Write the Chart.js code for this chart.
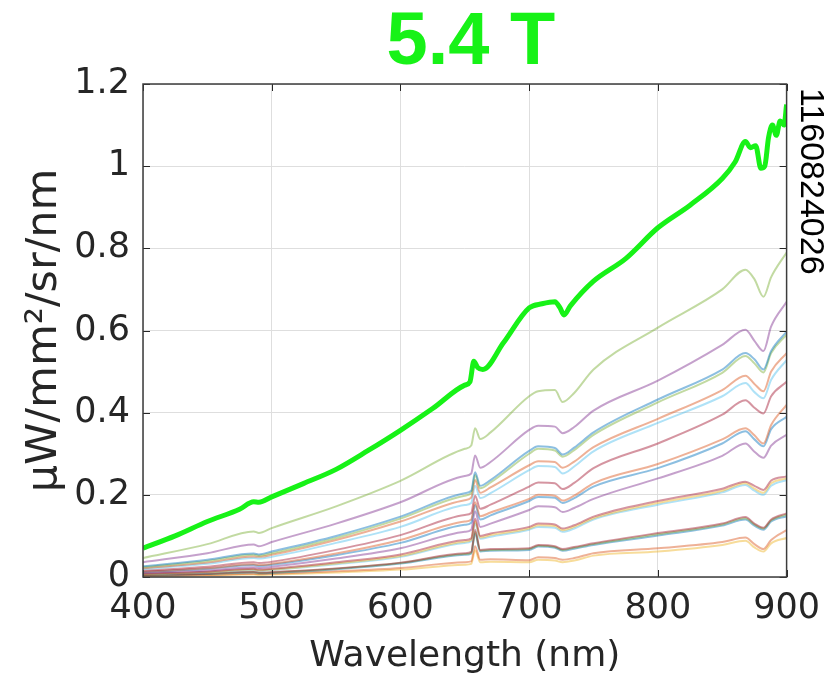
<!DOCTYPE html>
<html>
<head>
<meta charset="utf-8">
<script src="https://cdn.jsdelivr.net/npm/chart.js@4.4.1/dist/chart.umd.min.js"></script>
<style>
  html, body { margin: 0; padding: 0; background: #ffffff; }
  #wrap { width: 831px; height: 683px; }
</style>
</head>
<body>
<div id="wrap"><canvas id="spectra" width="831" height="683"></canvas></div>
<script>
// ---- data -------------------------------------------------------------
const chartTitle = '5.4 T';
const shotNumber = '1160824026';
const xAxisTitle = 'Wavelength (nm)';
const yAxisTitle = 'μW/mm²/sr/nm';

const xTickValues = [400, 500, 600, 700, 800, 900];
const xTickLabels = ['400', '500', '600', '700', '800', '900'];
const yTickValues = [0, 0.2, 0.4, 0.6, 0.8, 1.0, 1.2];
const yTickLabels = ['0', '0.2', '0.4', '0.6', '0.8', '1', '1.2'];

// sample wavelengths (nm) shared by the background spectra
const wavelengths = [400, 450, 486, 490, 500, 550, 600, 650, 655, 658, 662, 670, 700, 707, 720, 726, 735, 750, 800, 850, 868, 875, 882, 888, 900];

const run01 = [.046, .08, .111, .107, .119, .172, .234, .312, .32, .362, .336, .352, .44, .452, .455, .426, .448, .505, .607, .70, .748, .725, .682, .73, .79];
const run02 = [.036, .058, .079, .075, .085, .13, .182, .246, .252, .296, .266, .28, .358, .368, .366, .35, .365, .405, .478, .565, .602, .575, .55, .61, .67];
const run03 = [.026, .042, .057, .055, .062, .1, .147, .204, .21, .255, .222, .236, .307, .318, .314, .298, .315, .352, .432, .505, .545, .53, .505, .55, .597];
const run04 = [.024, .039, .054, .052, .058, .095, .142, .198, .204, .248, .216, .23, .3, .312, .308, .293, .309, .346, .425, .497, .538, .52, .498, .545, .59];
const run05 = [.021, .035, .05, .049, .054, .09, .135, .187, .193, .236, .205, .218, .272, .282, .28, .266, .281, .316, .385, .455, .49, .47, .452, .5, .545];
const run06 = [.019, .032, .046, .045, .049, .083, .122, .175, .18, .222, .192, .204, .26, .27, .268, .252, .269, .306, .375, .44, .472, .45, .435, .48, .528];
const run07 = [.015, .025, .036, .034, .037, .066, .102, .151, .156, .198, .166, .176, .22, .23, .228, .214, .229, .265, .325, .395, .43, .412, .398, .44, .475];
const run08 = [.013, .021, .031, .029, .032, .057, .09, .135, .14, .182, .148, .157, .19, .2, .198, .186, .198, .228, .275, .335, .362, .345, .325, .37, .419];
const run09 = [.012, .02, .029, .027, .03, .053, .083, .127, .132, .175, .14, .15, .185, .195, .193, .18, .192, .22, .265, .325, .355, .335, .318, .36, .39];
const run10 = [.01, .016, .024, .022, .025, .045, .07, .11, .115, .16, .122, .13, .163, .172, .17, .158, .168, .19, .24, .295, .325, .305, .29, .32, .346];
const run11 = [.008, .013, .02, .018, .02, .036, .055, .09, .094, .142, .1, .106, .122, .13, .128, .118, .126, .147, .185, .215, .232, .222, .212, .235, .245];
const run12 = [.007, .012, .018, .016, .018, .033, .051, .086, .09, .136, .096, .102, .118, .126, .124, .114, .122, .143, .18, .21, .228, .215, .205, .228, .24];
const run13 = [.007, .011, .017, .015, .017, .031, .049, .083, .087, .13, .093, .098, .115, .122, .12, .11, .118, .14, .176, .206, .224, .21, .2, .222, .236];
const run14 = [.005, .008, .013, .011, .012, .021, .035, .058, .061, .115, .066, .068, .07, .078, .075, .068, .073, .082, .107, .13, .146, .13, .12, .14, .155];
const run15 = [.005, .008, .012, .01, .011, .02, .034, .056, .059, .11, .064, .066, .068, .076, .073, .066, .071, .08, .104, .128, .143, .128, .118, .138, .152];
const run16 = [.004, .007, .011, .009, .01, .019, .033, .054, .057, .105, .062, .064, .066, .074, .071, .064, .069, .078, .101, .125, .14, .125, .115, .135, .148];
const run17 = [.003, .005, .008, .007, .008, .014, .022, .036, .038, .075, .042, .043, .041, .048, .046, .042, .046, .058, .07, .085, .096, .08, .068, .09, .114];
const run18 = [.002, .004, .006, .005, .006, .011, .018, .03, .032, .065, .036, .037, .036, .042, .04, .036, .04, .052, .062, .078, .088, .072, .062, .082, .095];

// highlighted 5.4 T spectrum, sampled on its own wavelength grid
const fieldWavelengths = [400, 425, 450, 475, 486, 490, 500, 525, 550, 575, 600, 625, 650, 654, 657, 660, 664, 680, 700, 710, 720, 724, 727, 732, 750, 775, 800, 825, 850, 860, 868, 872, 876, 880, 883, 886, 889, 892, 895, 898, 900];
const fieldSpectrum = [.07, .1, .135, .165, .183, .182, .195, .228, .262, .308, .357, .41, .467, .475, .525, .51, .505, .57, .655, .665, .67, .655, .638, .66, .72, .775, .85, .905, .97, 1.01, 1.06, 1.045, 1.05, .995, 1.0, 1.07, 1.1, 1.075, 1.11, 1.1, 1.15];

// ---- styling --------------------------------------------------------
const backgroundRuns = [run01, run02, run03, run04, run05, run06, run07, run08, run09, run10, run11, run12, run13, run14, run15, run16, run17, run18];
const runColors = ['#77AC30', '#7E2F8E', '#0072BD', '#77AC30', '#D95319', '#4DBEEE', '#A2142F', '#D95319', '#0072BD', '#7E2F8E', '#A2142F', '#EDB120', '#4DBEEE', '#A2142F', '#77AC30', '#0072BD', '#D95319', '#EDB120'];
const highlightColor = '#17f217';
const inkColor = '#262626';

function withAlpha(hex, a) {
  const n = parseInt(hex.slice(1), 16);
  return `rgba(${(n >> 16) & 255}, ${(n >> 8) & 255}, ${n & 255}, ${a})`;
}

const pairUp = (xs, ys) => xs.map((x, i) => ({ x, y: ys[i] }));

const datasets = backgroundRuns.map((ys, i) => ({
  data: pairUp(wavelengths, ys),
  borderColor: withAlpha(runColors[i], 0.45),
  borderWidth: 2,
  pointRadius: 0,
  cubicInterpolationMode: 'monotone',
  order: 1
}));
datasets.push({
  data: pairUp(fieldWavelengths, fieldSpectrum),
  borderColor: highlightColor,
  borderWidth: 5,
  pointRadius: 0,
  cubicInterpolationMode: 'monotone',
  borderJoinStyle: 'round',
  order: 0
});

// box, inward tick marks, title and shot number
const axesDecor = {
  id: 'axesDecor',
  afterDatasetsDraw(chart) {
    const { ctx, chartArea: { left, right, top, bottom }, scales: { x, y } } = chart;
    ctx.save();
    ctx.strokeStyle = inkColor;
    ctx.lineWidth = 1;
    ctx.beginPath();
    xTickValues.forEach(v => {
      const px = Math.round(x.getPixelForValue(v)) + 0.5;
      ctx.moveTo(px, bottom); ctx.lineTo(px, bottom - 7);
      ctx.moveTo(px, top); ctx.lineTo(px, top + 7);
    });
    yTickValues.forEach(v => {
      const py = Math.round(y.getPixelForValue(v)) + 0.5;
      ctx.moveTo(left, py); ctx.lineTo(left + 7, py);
      ctx.moveTo(right, py); ctx.lineTo(right - 7, py);
    });
    ctx.stroke();
    ctx.strokeStyle = '#3c3c3c';
    ctx.lineWidth = 1.5;
    ctx.strokeRect(left, top, right - left, bottom - top);
    ctx.restore();
  },
  afterDraw(chart) {
    const { ctx, chartArea: { left, right } } = chart;
    ctx.save();
    ctx.fillStyle = highlightColor;
    ctx.font = 'bold 74px "Liberation Sans", Arial, sans-serif';
    ctx.textAlign = 'center';
    ctx.textBaseline = 'alphabetic';
    ctx.fillText(chartTitle, (left + right) / 2 + 6, 64);

    ctx.fillStyle = '#000000';
    ctx.font = '34px "Liberation Sans", Arial, sans-serif';
    ctx.textAlign = 'left';
    ctx.translate(801, 88);
    ctx.rotate(Math.PI / 2);
    ctx.fillText(shotNumber, 0, 0);
    ctx.restore();
  }
};

new Chart(document.getElementById('spectra'), {
  type: 'line',
  data: { datasets },
  plugins: [axesDecor],
  options: {
    responsive: false,
    animation: false,
    layout: { padding: { top: 84, right: 38, bottom: 0, left: 0 } },
    plugins: { legend: { display: false }, tooltip: { enabled: false } },
    scales: {
      x: {
        type: 'linear',
        min: 400,
        max: 900,
        afterFit(s) { s.height = 106; },
        afterBuildTicks(s) { s.ticks = xTickValues.map(v => ({ value: v })); },
        ticks: {
          color: inkColor,
          padding: 11,
          font: { family: '"DejaVu Sans", sans-serif', size: 35 },
          callback: v => xTickLabels[xTickValues.indexOf(v)]
        },
        grid: { color: '#dedede', lineWidth: 1, drawTicks: false },
        border: { display: false },
        title: {
          display: true,
          text: xAxisTitle,
          color: inkColor,
          font: { family: '"DejaVu Sans", sans-serif', size: 36 },
          padding: { top: 0, bottom: 5 }
        }
      },
      y: {
        type: 'linear',
        min: 0,
        max: 1.2,
        afterFit(s) { s.width = 143; },
        afterBuildTicks(s) { s.ticks = yTickValues.map(v => ({ value: v })); },
        ticks: {
          color: inkColor,
          padding: 13,
          font: { family: '"DejaVu Sans", sans-serif', size: 35 },
          callback: (v, i) => yTickLabels[i]
        },
        grid: { color: '#dedede', lineWidth: 1, drawTicks: false },
        border: { display: false },
        title: {
          display: true,
          text: yAxisTitle,
          color: inkColor,
          font: { family: '"DejaVu Sans", sans-serif', size: 43 },
          padding: { top: 19, bottom: 0 }
        }
      }
    }
  }
});
</script>
</body>
</html>
